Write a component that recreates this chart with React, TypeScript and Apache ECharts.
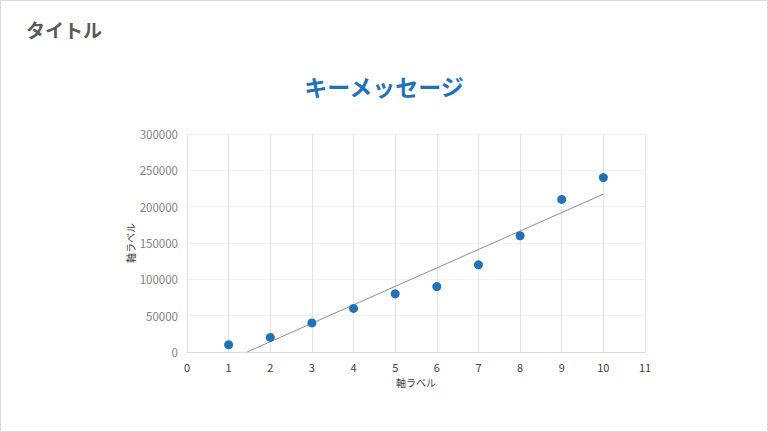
import React, { useEffect, useRef } from 'react';
import * as echarts from 'echarts';

const xValues = [1, 2, 3, 4, 5, 6, 7, 8, 9, 10];
const yValues = [10000, 20000, 40000, 60000, 80000, 90000, 120000, 160000, 210000, 240000];

const pageTitle = 'タイトル';
const keyMessage = 'キーメッセージ';
const xAxisName = '軸ラベル';
const yAxisName = '軸ラベル';

const FONT = '"Noto Sans CJK JP", "Noto Sans", sans-serif';

// least-squares trendline, clipped at y = 0 like the original
const linearFit = (xs: number[], ys: number[]) => {
  const n = xs.length;
  const mx = xs.reduce((a, b) => a + b, 0) / n;
  const my = ys.reduce((a, b) => a + b, 0) / n;
  let sxy = 0;
  let sxx = 0;
  xs.forEach((x, i) => {
    sxy += (x - mx) * (ys[i] - my);
    sxx += (x - mx) * (x - mx);
  });
  const slope = sxy / sxx;
  return { slope, intercept: my - slope * mx };
};

const App: React.FC = () => {
  const chartRef = useRef<HTMLDivElement>(null);

  useEffect(() => {
    if (!chartRef.current) return;
    const chart = echarts.init(chartRef.current, undefined, { renderer: 'svg' });

    const { slope, intercept } = linearFit(xValues, yValues);
    const xStart = Math.max(xValues[0], -intercept / slope);
    const xEnd = xValues[xValues.length - 1];
    const trend = [
      [xStart, slope * xStart + intercept],
      [xEnd, slope * xEnd + intercept],
    ];

    chart.setOption({
      animation: false,
      backgroundColor: '#ffffff',
      textStyle: { fontFamily: FONT },
      title: [
        {
          text: pageTitle,
          left: 20,
          top: 14,
          textStyle: { fontSize: 19, fontWeight: 'bold', color: '#595959', fontFamily: FONT },
        },
        {
          text: keyMessage,
          left: 'center',
          top: 68,
          textStyle: { fontSize: 23, fontWeight: 'bold', color: '#1f72b8', fontFamily: FONT },
        },
      ],
      grid: { left: 186, right: 122, top: 133, bottom: 79 },
      xAxis: {
        type: 'value',
        min: 0,
        max: 11,
        interval: 1,
        name: xAxisName,
        nameLocation: 'middle',
        nameGap: 25,
        nameTextStyle: { fontSize: 10, color: '#404040', fontFamily: FONT },
        axisLine: { show: true, lineStyle: { color: '#d9d9d9' } },
        axisTick: { show: false },
        axisLabel: { fontSize: 11, color: '#404040', margin: 9 },
        splitLine: { show: true, lineStyle: { color: '#e3e3e3' } },
      },
      yAxis: {
        type: 'value',
        min: 0,
        max: 300000,
        interval: 50000,
        name: yAxisName,
        nameLocation: 'middle',
        nameGap: 52,
        nameMoveOverlap: false,
        nameRotate: 90,
        nameTextStyle: { fontSize: 10, color: '#404040', fontFamily: FONT },
        axisLine: { show: false },
        axisTick: { show: false },
        axisLabel: { fontSize: 11.5, color: '#7f7f7f', margin: 9, formatter: (v: number) => String(v) },
        splitLine: { show: true, lineStyle: { color: '#f2f2f2' } },
      },
      series: [
        {
          type: 'line',
          data: trend,
          symbol: 'none',
          lineStyle: { color: '#8c8c8c', width: 1 },
          silent: true,
          z: 1,
        },
        {
          type: 'scatter',
          data: xValues.map((x, i) => [x, yValues[i]]),
          symbolSize: 9,
          itemStyle: { color: '#1f72b8', opacity: 1 },
          z: 2,
        },
      ],
    });

    return () => {
      chart.dispose();
    };
  }, []);

  return (
    <div
      style={{
        position: 'fixed',
        left: 0,
        top: 0,
        width: 768,
        height: 432,
        boxSizing: 'border-box',
        border: '1px solid #d9d9d9',
        background: '#fff',
      }}
    >
      <div ref={chartRef} style={{ width: '100%', height: '100%' }}></div>
    </div>
  );
};

export default App;
